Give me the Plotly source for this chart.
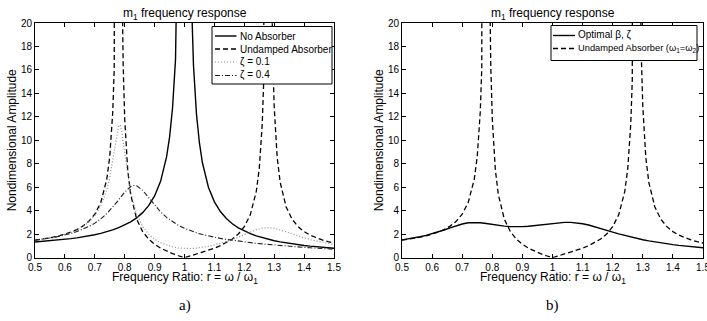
import plotly.graph_objects as go

# ---------------- data ----------------
x_tick_vals = [0.5, 0.6, 0.7, 0.8, 0.9, 1.0, 1.1, 1.2, 1.3, 1.4, 1.5]
x_tick_text = ["0.5", "0.6", "0.7", "0.8", "0.9", "1", "1.1", "1.2", "1.3", "1.4", "1.5"]
y_tick_vals = [0, 2, 4, 6, 8, 10, 12, 14, 16, 18, 20]

# No absorber
x_no = [0.50, 0.52, 0.54, 0.56, 0.58, 0.60, 0.62, 0.64, 0.66, 0.68, 0.70, 0.72, 0.74, 0.76, 0.78,
        0.80, 0.82, 0.84, 0.86, 0.88, 0.90, 0.92, 0.94, 0.95, 0.96, 0.97, 0.98, 0.99,
        1.01, 1.02, 1.03, 1.04, 1.05, 1.06, 1.08, 1.10, 1.12, 1.14, 1.16, 1.18, 1.20, 1.22, 1.24,
        1.26, 1.28, 1.30, 1.32, 1.34, 1.36, 1.38, 1.40, 1.42, 1.44, 1.46, 1.48, 1.50]
y_no = [1.333, 1.371, 1.412, 1.457, 1.507, 1.563, 1.624, 1.694, 1.772, 1.860, 1.961, 2.076, 2.210, 2.367, 2.554,
        2.778, 3.053, 3.397, 3.840, 4.433, 5.263, 6.510, 8.591, 10.26, 12.76, 16.92, 25.25, 50.25,
        49.75, 24.75, 16.42, 12.25, 9.756, 8.091, 6.010, 4.762, 3.931, 3.338, 2.894, 2.548, 2.273, 2.048, 1.860,
        1.702, 1.566, 1.449, 1.347, 1.257, 1.177, 1.106, 1.042, 0.984, 0.931, 0.884, 0.840, 0.800]

# Undamped absorber (omega1 = omega2)
x_und = [0.50, 0.52, 0.54, 0.56, 0.58, 0.60, 0.62, 0.64, 0.66, 0.68, 0.70, 0.72, 0.74, 0.75, 0.76, 0.765,
         0.77, 0.775, 0.78, 0.785, 0.79, 0.795, 0.80, 0.81, 0.82, 0.84, 0.86, 0.88, 0.90, 0.92, 0.94, 0.96,
         0.98, 1.00, 1.02, 1.04, 1.06, 1.08, 1.10, 1.12, 1.14, 1.16, 1.18, 1.20, 1.22, 1.24, 1.25, 1.26,
         1.265, 1.27, 1.275, 1.28, 1.285, 1.29, 1.295, 1.30, 1.31, 1.32, 1.34, 1.36, 1.38, 1.40, 1.42,
         1.44, 1.46, 1.48, 1.50]
y_und = [1.500, 1.570, 1.652, 1.748, 1.863, 2.003, 2.176, 2.398, 2.692, 3.100, 3.706, 4.706, 6.676, 8.616, 12.42, 16.12,
         23.26, 42.7, 313.0, 56.7, 25.52, 16.28, 11.84, 7.515, 5.390, 3.281, 2.224, 1.581, 1.142, 0.817, 0.561, 0.350,
         0.166, 0.000, 0.156, 0.309, 0.465, 0.631, 0.813, 1.022, 1.274, 1.593, 2.021, 2.644, 3.657, 5.636, 7.579, 11.38,
         15.09, 22.22, 41.7, 311.0, 57.7, 26.56, 17.31, 12.87, 8.548, 6.424, 4.322, 3.275, 2.646, 2.224, 1.921,
         1.693, 1.514, 1.369, 1.250]

# Damped absorber, zeta = 0.1
x_z1 = [0.50, 0.52, 0.54, 0.56, 0.58, 0.60, 0.62, 0.64, 0.66, 0.68, 0.70, 0.72, 0.74, 0.75, 0.76, 0.77,
        0.775, 0.78, 0.785, 0.79, 0.80, 0.81, 0.82, 0.84, 0.86, 0.88, 0.90, 0.92, 0.94, 0.96, 0.98, 1.00,
        1.02, 1.04, 1.06, 1.08, 1.10, 1.12, 1.14, 1.16, 1.18, 1.20, 1.22, 1.24, 1.26, 1.28, 1.30, 1.32,
        1.34, 1.36, 1.38, 1.40, 1.42, 1.44, 1.46, 1.48, 1.50]
y_z1 = [1.499, 1.569, 1.650, 1.745, 1.858, 1.995, 2.165, 2.379, 2.658, 3.036, 3.576, 4.401, 5.784, 6.848, 8.277, 9.999,
        10.78, 11.27, 11.30, 10.80, 8.926, 7.007, 5.537, 3.689, 2.649, 2.004, 1.573, 1.273, 1.062, 0.917, 0.827, 0.784,
        0.783, 0.816, 0.879, 0.967, 1.079, 1.213, 1.370, 1.550, 1.753, 1.973, 2.194, 2.390, 2.523, 2.564, 2.507, 2.375,
        2.204, 2.022, 1.847, 1.688, 1.545, 1.420, 1.311, 1.214, 1.129]

# Damped absorber, zeta = 0.4
x_z4 = [0.50, 0.52, 0.54, 0.56, 0.58, 0.60, 0.62, 0.64, 0.66, 0.68, 0.70, 0.72, 0.74, 0.76, 0.78, 0.80,
        0.82, 0.83, 0.84, 0.86, 0.88, 0.90, 0.92, 0.94, 0.96, 0.98, 1.00, 1.02, 1.04, 1.06, 1.08, 1.10,
        1.12, 1.14, 1.16, 1.18, 1.20, 1.22, 1.24, 1.26, 1.28, 1.30, 1.32, 1.34, 1.36, 1.38, 1.40, 1.42,
        1.44, 1.46, 1.48, 1.50]
y_z4 = [1.490, 1.555, 1.629, 1.715, 1.814, 1.930, 2.066, 2.228, 2.422, 2.658, 2.948, 3.306, 3.750, 4.294, 4.930, 5.582,
        6.059, 6.154, 6.127, 5.743, 5.117, 4.468, 3.900, 3.432, 3.054, 2.748, 2.499, 2.293, 2.121, 1.975, 1.850, 1.741,
        1.644, 1.558, 1.480, 1.409, 1.344, 1.283, 1.227, 1.174, 1.124, 1.078, 1.033, 0.991, 0.951, 0.914, 0.878, 0.844,
        0.811, 0.781, 0.752, 0.724]

# Optimal beta, zeta
x_opt = [0.50, 0.52, 0.54, 0.56, 0.58, 0.60, 0.62, 0.64, 0.66, 0.68, 0.70, 0.72, 0.74, 0.76, 0.78, 0.80,
         0.82, 0.84, 0.86, 0.88, 0.90, 0.92, 0.94, 0.96, 0.98, 1.00, 1.02, 1.04, 1.06, 1.08, 1.10, 1.12,
         1.14, 1.16, 1.18, 1.20, 1.22, 1.24, 1.26, 1.28, 1.30, 1.32, 1.34, 1.36, 1.38, 1.40, 1.42, 1.44,
         1.46, 1.48, 1.50]
y_opt = [1.521, 1.596, 1.682, 1.782, 1.899, 2.033, 2.186, 2.358, 2.540, 2.719, 2.872, 2.974, 3.008, 2.979, 2.909, 2.825,
         2.746, 2.687, 2.651, 2.639, 2.651, 2.684, 2.733, 2.794, 2.860, 2.925, 2.977, 3.008, 3.008, 2.971, 2.895, 2.786,
         2.651, 2.500, 2.343, 2.186, 2.036, 1.894, 1.763, 1.642, 1.532, 1.432, 1.342, 1.259, 1.184, 1.116, 1.054, 0.997,
         0.945, 0.898, 0.854]

labels_left = ["No Absorber", "Undamped Absorber", "ζ = 0.1", "ζ = 0.4"]
labels_right = ["Optimal β, ζ", "Undamped Absorber (ω<sub>1</sub>=ω<sub>2</sub>)"]

# ---------------- styles ----------------
W, H = 707, 321
FONT = "Liberation Sans, Arial, Helvetica, sans-serif"
SERIF = "Liberation Serif, Times New Roman, serif"
st_solid = dict(color="black", width=1.4)
st_dash = dict(color="black", width=1.3, dash="5px,3px")
st_dot = dict(color="#8c8c8c", width=1.2, dash="1px,2px")
st_dashdot = dict(color="#1e1e1e", width=1.1, dash="5px,2px,1px,2px")

fig = go.Figure()

left_series = [(x_no, y_no, st_solid), (x_und, y_und, st_dash), (x_z1, y_z1, st_dot), (x_z4, y_z4, st_dashdot)]
for (xs, ys, st), name in zip(left_series, labels_left):
    fig.add_trace(go.Scatter(x=xs, y=ys, mode="lines", name=name, line=st, xaxis="x", yaxis="y",
                             showlegend=False, hoverinfo="skip"))
right_series = [(x_opt, y_opt, st_solid), (x_und, y_und, st_dash)]
for (xs, ys, st), name in zip(right_series, labels_right):
    fig.add_trace(go.Scatter(x=xs, y=ys, mode="lines", name=name, line=st, xaxis="x2", yaxis="y2",
                             showlegend=False, hoverinfo="skip"))

L1, R1 = 35, 334
L2, R2 = 402, 703
TOP, BOT = 23, 257.7


def px(x):
    return x / W


def py(y):
    return 1 - y / H


axis_common = dict(showgrid=False, zeroline=False, showline=True, linecolor="black", linewidth=1,
                   mirror="ticks", ticks="inside", ticklen=4, tickwidth=1, tickcolor="black",
                   automargin=False, ticklabeloverflow="allow",
                   tickfont=dict(family=FONT, size=10, color="black"))

fig.update_layout(
    width=W, height=H,
    autosize=False,
    margin=dict(l=0, r=0, t=0, b=0, pad=0, autoexpand=False),
    paper_bgcolor="white", plot_bgcolor="white",
    font=dict(family=FONT, color="black"),
    showlegend=False,
    xaxis=dict(domain=[px(L1), px(R1)], range=[0.5, 1.5], tickvals=x_tick_vals, ticktext=x_tick_text,
               anchor="y", **axis_common),
    yaxis=dict(domain=[py(BOT), py(TOP)], range=[0, 20], tickvals=y_tick_vals, anchor="x", **axis_common),
    xaxis2=dict(domain=[px(L2), px(R2)], range=[0.5, 1.5], tickvals=x_tick_vals, ticktext=x_tick_text,
                anchor="y2", **axis_common),
    yaxis2=dict(domain=[py(BOT), py(TOP)], range=[0, 20], tickvals=y_tick_vals, anchor="x2", **axis_common),
)

ann = []
shapes = []
for (l, r, tag) in [(L1, R1, "a)"), (L2, R2, "b)")]:
    cx = px((l + r) / 2)
    ann.append(dict(text="m<sub>1</sub> frequency response", x=cx, y=py(14), xref="paper", yref="paper",
                    xanchor="center", yanchor="middle", showarrow=False,
                    font=dict(family=FONT, size=12, color="black")))
    ann.append(dict(text="Frequency Ratio: r = ω / ω<sub>1</sub>", x=cx, y=py(278), xref="paper", yref="paper",
                    xanchor="center", yanchor="middle", showarrow=False,
                    font=dict(family=FONT, size=12, color="black")))
    ann.append(dict(text=tag, x=cx, y=py(305), xref="paper", yref="paper", showarrow=False,
                    xanchor="center", yanchor="middle", font=dict(family=SERIF, size=15, color="black")))
    ann.append(dict(text="Nondimensional Amplitude", x=px(l - 23), y=py((TOP + BOT) / 2), xref="paper",
                    yref="paper", showarrow=False, textangle=-90, xanchor="center", yanchor="middle",
                    font=dict(family=FONT, size=12, color="black")))

# legend boxes (drawn as layout decoration so their compact MATLAB spacing can be matched)
legend_specs = [
    dict(box=(212, 332, 26.5, 84), rows=[36, 49, 62, 75.5], line_x=(215, 236.5), text_x=238,
         labels=labels_left, styles=[st_solid, st_dash, st_dot, st_dashdot], sizes=[10, 10, 10, 10]),
    dict(box=(551, 697, 25.5, 60.5), rows=[35.5, 48.5], line_x=(553, 575), text_x=576,
         labels=labels_right, styles=[st_solid, st_dash], sizes=[10, 9.3]),
]
for spec in legend_specs:
    x0, x1, y0, y1 = spec["box"]
    shapes.append(dict(type="rect", xref="paper", yref="paper", x0=px(x0), x1=px(x1), y0=py(y1), y1=py(y0),
                       fillcolor="white", line=dict(color="black", width=1), layer="above"))
    for row, lab, st, sz in zip(spec["rows"], spec["labels"], spec["styles"], spec["sizes"]):
        shapes.append(dict(type="line", xref="paper", yref="paper", x0=px(spec["line_x"][0]),
                           x1=px(spec["line_x"][1]), y0=py(row), y1=py(row), line=st, layer="above"))
        ann.append(dict(text=lab, x=px(spec["text_x"]), y=py(row), xref="paper", yref="paper",
                        xanchor="left", yanchor="middle", showarrow=False,
                        font=dict(family=FONT, size=sz, color="black")))

fig.update_layout(annotations=ann, shapes=shapes)

fig.write_html("out.html", config={"displayModeBar": False, "staticPlot": True},
               post_script="document.body.style.margin='0px';document.body.style.padding='0px';")
